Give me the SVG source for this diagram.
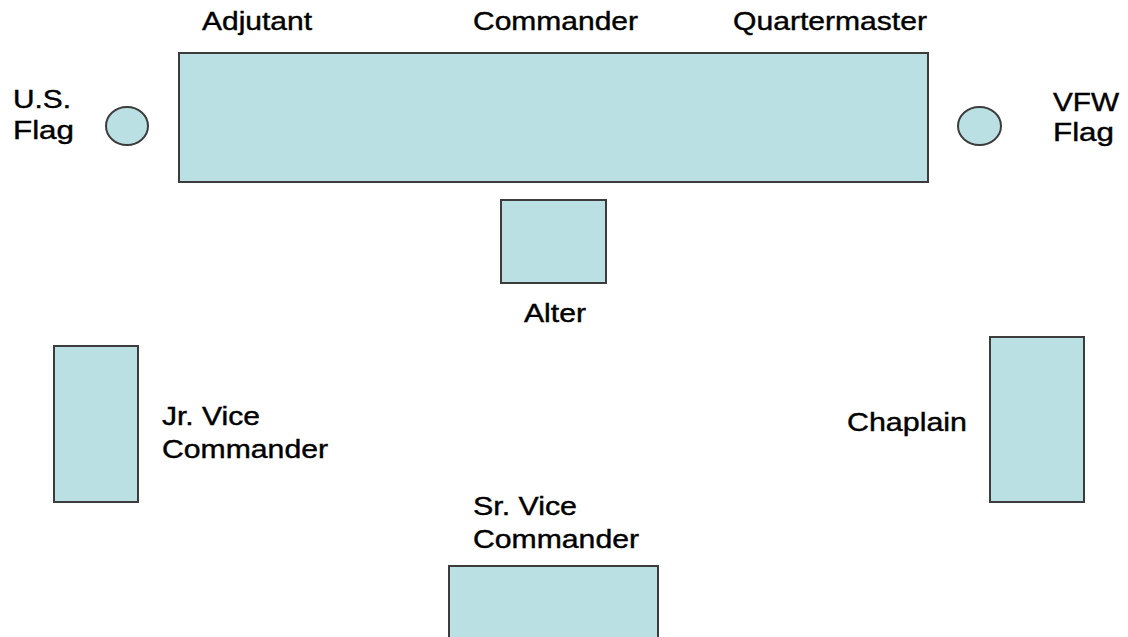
<svg xmlns="http://www.w3.org/2000/svg" width="1128" height="637" viewBox="0 0 1128 637">
<style>
.s{fill:#bae0e3;stroke:#3c3c3c;stroke-width:2}
.t{font-family:"Liberation Sans",Arial,sans-serif;font-size:25px;fill:#000;stroke:#000;stroke-width:0.4}
</style>
<rect width="1128" height="637" fill="#fff"/>
<g id="head-table">
<rect class="s" x="179" y="53" width="749" height="129"/>
<text class="t" x="202" y="30" textLength="110" lengthAdjust="spacingAndGlyphs">Adjutant</text>
<text class="t" x="473" y="30" textLength="165" lengthAdjust="spacingAndGlyphs">Commander</text>
<text class="t" x="733" y="30" textLength="194" lengthAdjust="spacingAndGlyphs">Quartermaster</text>
</g>
<g id="us-flag">
<ellipse class="s" cx="127" cy="126" rx="21" ry="19"/>
<text class="t" x="13" y="108" textLength="58" lengthAdjust="spacingAndGlyphs">U.S.</text>
<text class="t" x="13" y="139" textLength="61" lengthAdjust="spacingAndGlyphs">Flag</text>
</g>
<g id="vfw-flag">
<ellipse class="s" cx="979.5" cy="126" rx="21.5" ry="19"/>
<text class="t" x="1053" y="111" textLength="66" lengthAdjust="spacingAndGlyphs">VFW</text>
<text class="t" x="1053" y="141" textLength="61" lengthAdjust="spacingAndGlyphs">Flag</text>
</g>
<g id="alter">
<rect class="s" x="501" y="200" width="105" height="83"/>
<text class="t" x="524" y="322" textLength="62" lengthAdjust="spacingAndGlyphs">Alter</text>
</g>
<g id="jr-vice-commander">
<rect class="s" x="54" y="346" width="84" height="156"/>
<text class="t" x="162" y="425" textLength="98" lengthAdjust="spacingAndGlyphs">Jr. Vice</text>
<text class="t" x="162" y="458" textLength="166" lengthAdjust="spacingAndGlyphs">Commander</text>
</g>
<g id="chaplain">
<rect class="s" x="990" y="337" width="94" height="165"/>
<text class="t" x="847" y="431" textLength="120" lengthAdjust="spacingAndGlyphs">Chaplain</text>
</g>
<g id="sr-vice-commander">
<rect class="s" x="449" y="566" width="209" height="80"/>
<text class="t" x="473" y="515" textLength="104" lengthAdjust="spacingAndGlyphs">Sr. Vice</text>
<text class="t" x="473" y="548" textLength="166" lengthAdjust="spacingAndGlyphs">Commander</text>
</g>
<g id="connectors"/>
</svg>
